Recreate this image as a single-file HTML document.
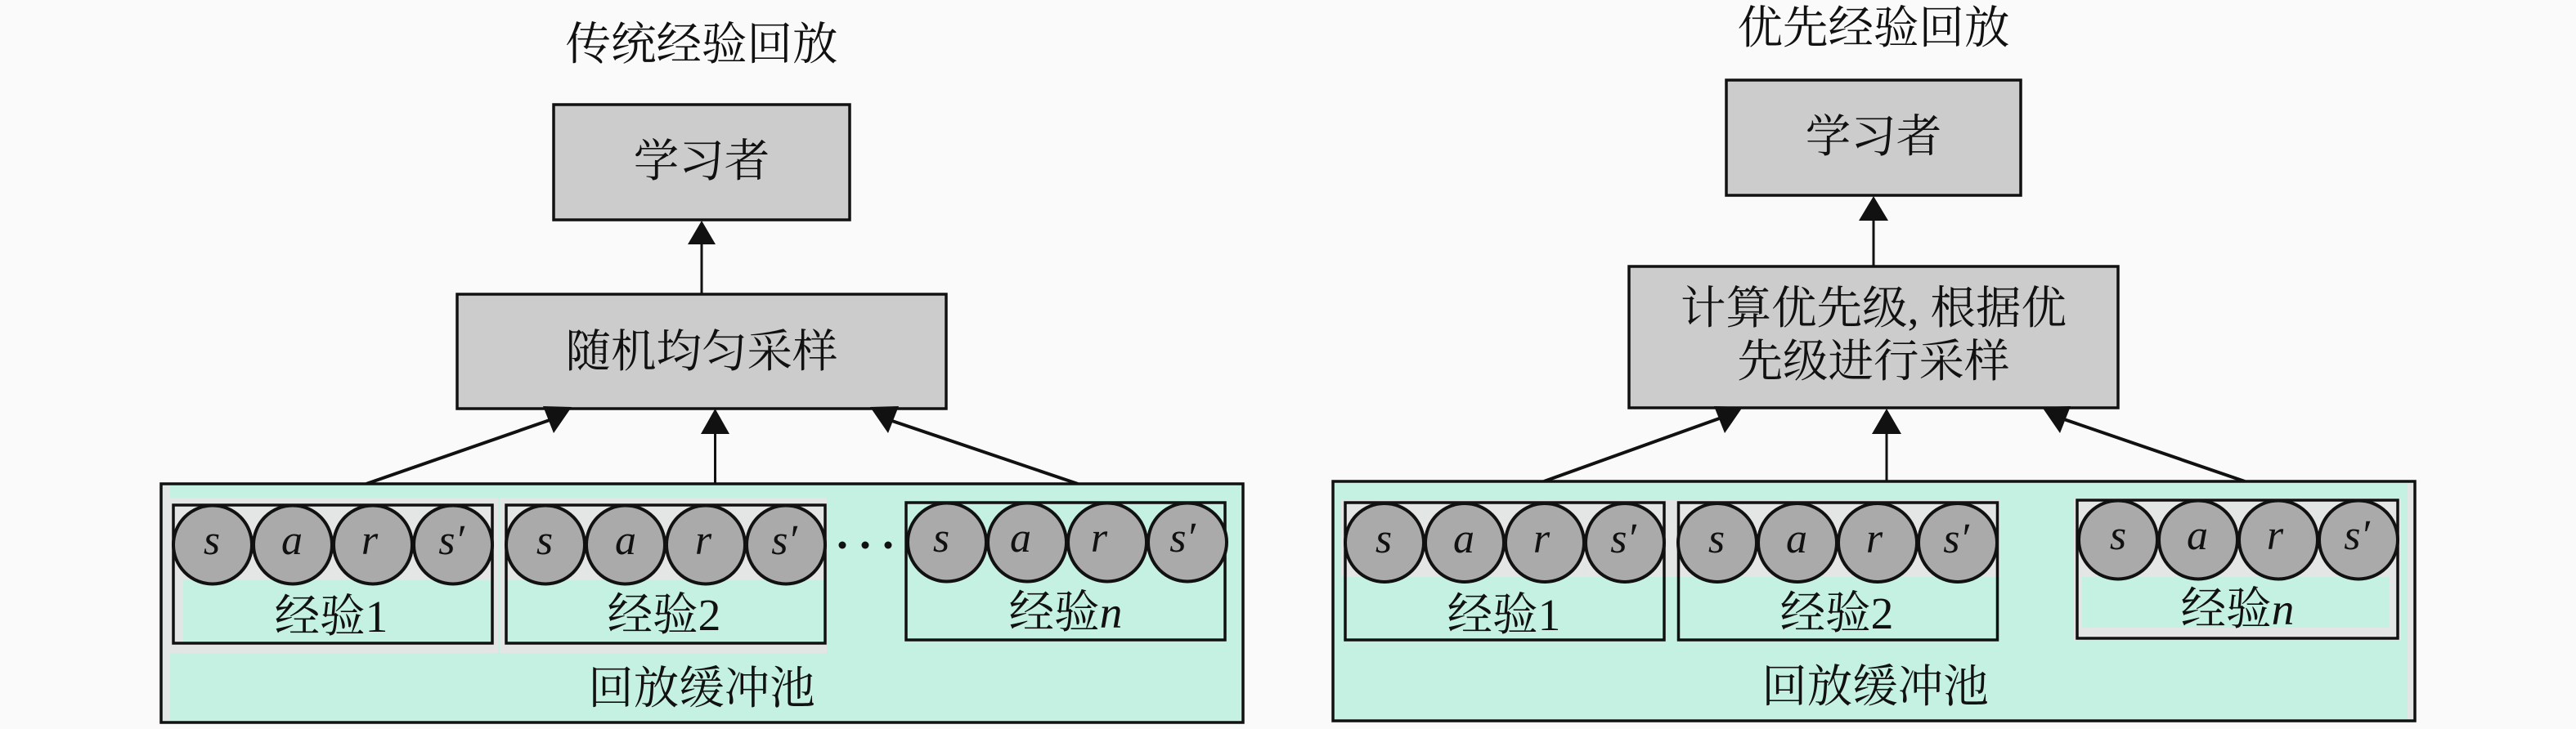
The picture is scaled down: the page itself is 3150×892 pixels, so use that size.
<!DOCTYPE html>
<html>
<head>
<meta charset="utf-8">
<style>
html,body{margin:0;padding:0;background:#fafafa;width:3150px;height:892px;overflow:hidden}
svg{display:block}
text{font-family:"Liberation Serif","Noto Serif CJK SC",serif;fill:#111;text-anchor:middle}
.c{font-size:55.5px}
.m{font-size:52px;font-style:italic}
</style>
</head>
<body>
<svg width="3150" height="892" viewBox="0 0 3150 892" xmlns="http://www.w3.org/2000/svg">
<defs>
<g id="row" stroke="#111" stroke-width="4" fill="#aaaaaa">
<circle cx="0" cy="0" r="48"/>
<circle cx="98" cy="0" r="48"/>
<circle cx="196" cy="0" r="48"/>
<circle cx="294" cy="0" r="48"/>
</g>
</defs>
<rect width="3150" height="892" fill="#fafafa"/>

<!-- Left panel -->
<text class="c" x="858" y="73">传统经验回放</text>
<rect x="677" y="128" width="362" height="141" fill="#cccccc" stroke="#111" stroke-width="3.5"/>
<text class="c" x="858" y="216">学习者</text>
<rect x="559" y="360" width="598" height="140" fill="#cccccc" stroke="#111" stroke-width="3.5"/>
<text class="c" x="858" y="449">随机均匀采样</text>
<line x1="858" y1="360" x2="858" y2="296" stroke="#111" stroke-width="3"/>
<polygon points="858,270 841,299 875,299" fill="#111"/>
<line x1="874.500" y1="592" x2="874.500" y2="528" stroke="#111" stroke-width="3"/>
<polygon points="874.500,500 857,531 892,531" fill="#111"/>
<line x1="448" y1="592" x2="675" y2="513" stroke="#111" stroke-width="4"/>
<polygon points="699,498 664,497 677,530" fill="#111"/>
<line x1="1318" y1="592" x2="1085" y2="513" stroke="#111" stroke-width="4"/>
<polygon points="1064,498 1099,497 1086,530" fill="#111"/>

<rect x="197" y="592" width="1323" height="292" fill="#c5f1e3" stroke="#111" stroke-width="3.500"/>
<rect x="199" y="609" width="410" height="190" fill="#e4e6e5"/>
<rect x="199" y="594" width="9" height="288" fill="#e4e6e5"/>
<rect x="611" y="609" width="400" height="190" fill="#e4e6e5"/>
<rect x="224" y="710" width="378" height="76" fill="#c5f1e3"/>
<rect x="619" y="710" width="390" height="76" fill="#c5f1e3"/>
<rect x="212" y="618" width="390" height="169" fill="none" stroke="#111" stroke-width="3.500"/>
<rect x="619" y="618" width="390" height="169" fill="none" stroke="#111" stroke-width="3.500"/>
<rect x="1108" y="615" width="390" height="168" fill="none" stroke="#111" stroke-width="3.500"/>
<use href="#row" x="260" y="666.500"/>
<use href="#row" x="667" y="666.500"/>
<use href="#row" x="1158" y="663.500"/>
<text class="m" x="259" y="678">s</text><text class="m" x="357" y="678">a</text><text class="m" x="452" y="678">r</text><text class="m" x="552" y="678">s′</text>
<text class="m" x="666" y="678">s</text><text class="m" x="765" y="678">a</text><text class="m" x="860" y="678">r</text><text class="m" x="959" y="678">s′</text>
<text class="m" x="1151" y="675">s</text><text class="m" x="1248" y="675">a</text><text class="m" x="1344" y="675">r</text><text class="m" x="1446" y="675">s′</text>
<circle cx="1030" cy="667" r="4.500" fill="#111"/><circle cx="1058" cy="667" r="4.500" fill="#111"/><circle cx="1086" cy="667" r="4.500" fill="#111"/>
<text class="c" x="405" y="773">经验1</text>
<text class="c" x="812" y="771">经验2</text>
<text class="c" x="1303" y="768">经验<tspan font-style="italic">n</tspan></text>
<text class="c" x="858" y="861">回放缓冲池</text>

<!-- Right panel -->
<text class="c" x="2291" y="53">优先经验回放</text>
<rect x="2111" y="98" width="360" height="141" fill="#cccccc" stroke="#111" stroke-width="3.500"/>
<text class="c" x="2291" y="186">学习者</text>
<rect x="1992" y="326" width="598" height="173" fill="#cccccc" stroke="#111" stroke-width="3.500"/>
<text class="c" x="2291" y="396" textLength="472">计算优先级, 根据优</text>
<text class="c" x="2291" y="461">先级进行采样</text>
<line x1="2291" y1="326" x2="2291" y2="266" stroke="#111" stroke-width="3"/>
<polygon points="2291,240 2273,270 2309,270" fill="#111"/>
<line x1="2307" y1="589" x2="2307" y2="528" stroke="#111" stroke-width="3"/>
<polygon points="2307,500 2289,531 2325,531" fill="#111"/>
<line x1="1888" y1="589" x2="2108" y2="510" stroke="#111" stroke-width="4"/>
<polygon points="2131,498 2096,497 2109,530" fill="#111"/>
<line x1="2745" y1="589" x2="2518" y2="511" stroke="#111" stroke-width="4"/>
<polygon points="2497,498 2532,497 2519,530" fill="#111"/>

<rect x="1630" y="589" width="1323" height="293" fill="#c5f1e3" stroke="#111" stroke-width="3.500"/>
<rect x="2944" y="591" width="7" height="289" fill="#e4e6e5"/>
<rect x="1640" y="612" width="806" height="94" fill="#e4e6e5"/>
<rect x="2536" y="610" width="400" height="96" fill="#e4e6e5"/>
<rect x="2536" y="706" width="10" height="78" fill="#e4e6e5"/>
<rect x="2922" y="706" width="14" height="78" fill="#e4e6e5"/>
<rect x="2540" y="768" width="392" height="13" fill="#e4e6e5"/>
<rect x="1645" y="615" width="390" height="168" fill="none" stroke="#111" stroke-width="3.500"/>
<rect x="2052.500" y="615" width="390" height="168" fill="none" stroke="#111" stroke-width="3.500"/>
<rect x="2540" y="612" width="392" height="169" fill="none" stroke="#111" stroke-width="3.500"/>
<use href="#row" x="1693" y="664"/>
<use href="#row" x="2100" y="664"/>
<use href="#row" x="2590" y="660.500"/>
<text class="m" x="1692" y="676">s</text><text class="m" x="1790" y="676">a</text><text class="m" x="1885" y="676">r</text><text class="m" x="1985" y="676">s′</text>
<text class="m" x="2099" y="676">s</text><text class="m" x="2197" y="676">a</text><text class="m" x="2292" y="676">r</text><text class="m" x="2392" y="676">s′</text>
<text class="m" x="2590" y="672">s</text><text class="m" x="2687" y="672">a</text><text class="m" x="2782" y="672">r</text><text class="m" x="2882" y="672">s′</text>
<text class="c" x="1839" y="771">经验1</text>
<text class="c" x="2246" y="769">经验2</text>
<text class="c" x="2736" y="764">经验<tspan font-style="italic">n</tspan></text>
<text class="c" x="2293" y="859">回放缓冲池</text>
</svg>
</body>
</html>
